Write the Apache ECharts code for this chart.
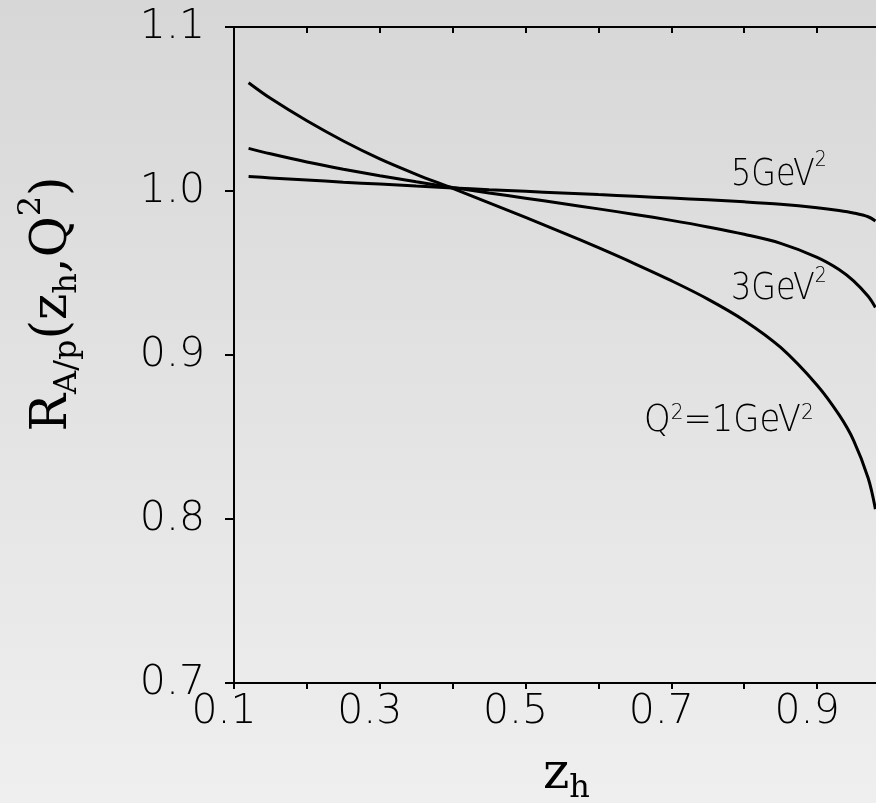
<!DOCTYPE html>
<html>
<head>
<meta charset="utf-8">
<script src="https://cdn.jsdelivr.net/npm/echarts@6/dist/echarts.min.js"></script>
<style>
  html, body { margin: 0; padding: 0; }
  #chart { width: 876px; height: 803px; }
</style>
</head>
<body>
<div id="chart"></div>
<script>
// z_h sample points shared by the three curves
const zh = [0.12, 0.15, 0.2, 0.25, 0.3, 0.35, 0.4, 0.45, 0.5, 0.55, 0.6, 0.65, 0.7, 0.75, 0.8, 0.85, 0.9, 0.93, 0.95, 0.97, 0.98];
// R_{A/p} for Q^2 = 1, 3, 5 GeV^2
const rQ1 = [1.066, 1.0565, 1.0428, 1.0305, 1.0196, 1.0102, 1.0016, 0.9928, 0.9839, 0.9748, 0.9654, 0.9556, 0.9453, 0.9341, 0.9211, 0.9046, 0.8816, 0.8636, 0.848, 0.825, 0.806];
const rQ3 = [1.026, 1.0227, 1.0177, 1.0133, 1.0093, 1.0056, 1.0021, 0.9988, 0.9956, 0.9924, 0.9891, 0.9857, 0.9821, 0.9781, 0.9736, 0.9681, 0.9596, 0.9522, 0.9452, 0.9358, 0.929];
const rQ5 = [1.0088, 1.008, 1.0067, 1.0054, 1.0042, 1.003, 1.0019, 1.0008, 0.9998, 0.9988, 0.9978, 0.9968, 0.9957, 0.9946, 0.9934, 0.9919, 0.9898, 0.9881, 0.9866, 0.9843, 0.9817];
// labelled ticks
const xTickLabels = ['0.1', '0.3', '0.5', '0.7', '0.9'];
const yTickLabels = ['0.7', '0.8', '0.9', '1.0', '1.1'];

const tickFont = 'DejaVu Sans';
const serif = 'DejaVu Serif';
const lineW = 3;

const chart = echarts.init(document.getElementById('chart'), null, { renderer: 'canvas' });

function pairs(ys) { return zh.map((x, i) => [x, ys[i]]); }

function curve(name, ys) {
  return {
    name, type: 'line', data: pairs(ys), xAxisIndex: 0, yAxisIndex: 0,
    smooth: 0.35, showSymbol: false, silent: true,
    lineStyle: { color: '#000', width: lineW }
  };
}

const axisLine = { show: true, lineStyle: { color: '#000', width: 2 } };

// curve label with a raised "2"; supRise sets how far up the exponent sits
function annotation(x, y, text, supRise, squeeze) {
  return {
    type: 'text', x, y, scaleX: squeeze, silent: true,
    style: {
      text, fill: '#000', align: 'left', verticalAlign: 'top',
      fontFamily: tickFont, fontWeight: 200, fontSize: 37,
      rich: {
        m: { fontFamily: tickFont, fontWeight: 200, fontSize: 37, lineHeight: 40 },
        s: { fontFamily: tickFont, fontWeight: 200, fontSize: 22, lineHeight: 10, height: supRise, verticalAlign: 'top' }
      }
    }
  };
}

const option = {
  backgroundColor: {
    type: 'linear', x: 0, y: 0, x2: 0, y2: 1,
    colorStops: [{ offset: 0, color: '#d7d7d7' }, { offset: 1, color: '#efefef' }]
  },
  animation: false,
  // the frame runs on past the right edge of the page (z_h = 1.0 sits beyond it)
  grid: { left: 234, top: 27, bottom: 120, width: 656, containLabel: false, outerBoundsMode: 'none' },
  xAxis: [
    {
      type: 'value', position: 'bottom', min: 0.1, max: 1.0, interval: 0.1,
      axisLine, splitLine: { show: false },
      axisTick: { show: true, inside: false, length: 6, lineStyle: { color: '#000', width: 2 } },
      axisLabel: {
        show: true, margin: 9, color: '#000', fontFamily: tickFont, fontWeight: 200, fontSize: 41,
        padding: [0, 20, 0, 0], hideOverlap: false,
        formatter: v => { const s = v.toFixed(1); return xTickLabels.includes(s) ? s : ''; }
      }
    },
    {
      type: 'value', position: 'top', min: 0.1, max: 1.0, interval: 0.1,
      axisLine, splitLine: { show: false },
      axisTick: { show: true, inside: true, length: 6, lineStyle: { color: '#000', width: 2 } },
      axisLabel: { show: false }
    }
  ],
  yAxis: [
    {
      type: 'value', position: 'left', min: 0.7, max: 1.1, interval: 0.1,
      axisLine, splitLine: { show: false },
      axisTick: { show: true, inside: false, length: 9, lineStyle: { color: '#000', width: 2 } },
      axisLabel: {
        show: true, margin: 29, color: '#000', fontFamily: tickFont, fontWeight: 200, fontSize: 41,
        hideOverlap: false,
        formatter: v => { const s = v.toFixed(1); return yTickLabels.includes(s) ? s : ''; }
      }
    },
    {
      type: 'value', position: 'right', min: 0.7, max: 1.1, interval: 0.1,
      axisLine, splitLine: { show: false },
      axisTick: { show: true, inside: true, length: 9, lineStyle: { color: '#000', width: 2 } },
      axisLabel: { show: false }
    }
  ],
  series: [
    curve('Q2=1', rQ1),
    curve('Q2=3', rQ3),
    curve('Q2=5', rQ5)
  ],
  graphic: [
    annotation(731, 155, '{m|5GeV}{s|2}', 11, 0.86),
    annotation(731, 269, '{m|3GeV}{s|2}', 15, 0.86),
    annotation(644, 401, '{m|Q}{s|2}{m|=1GeV}{s|2}', 24, 0.915),
    // x-axis title z_h
    {
      type: 'text', x: 543, y: 750, silent: true,
      style: {
        text: '{m|z}{b|h}', fill: '#000', align: 'left', verticalAlign: 'top',
        rich: {
          m: { fontFamily: serif, fontSize: 50, lineHeight: 50 },
          b: { fontFamily: serif, fontSize: 32, lineHeight: 20, height: 22, verticalAlign: 'bottom' }
        }
      }
    },
    // y-axis title R_{A/p}(z_h, Q^2), read bottom to top
    {
      type: 'text', x: 53, y: 304, rotation: Math.PI / 2, silent: true,
      style: {
        text: '{m|R}{b|A/p}{m|(z}{b|h}{m|,Q}{s|2}{m|)}', fill: '#000',
        align: 'center', verticalAlign: 'middle',
        rich: {
          m: { fontFamily: serif, fontSize: 50, lineHeight: 56 },
          b: { fontFamily: serif, fontSize: 32, lineHeight: 20, height: 26, verticalAlign: 'bottom' },
          s: { fontFamily: serif, fontSize: 32, lineHeight: 20, height: 14, verticalAlign: 'top' }
        }
      }
    }
  ]
};

chart.setOption(option);
</script>
</body>
</html>
